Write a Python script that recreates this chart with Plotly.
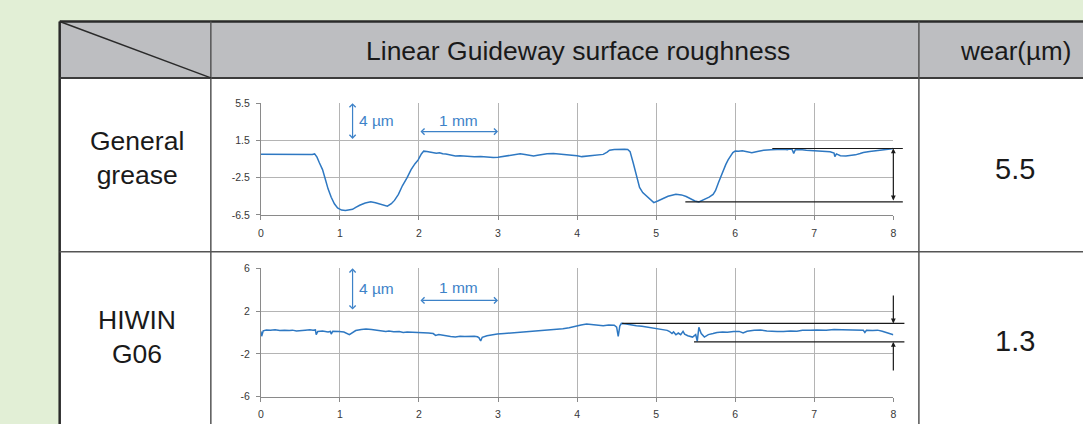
import plotly.graph_objects as go

# ---------------- data ----------------
row_labels = ["General<br>grease", "HIWIN<br>G06"]
wear_values = ["5.5", "1.3"]
header_main = "Linear Guideway surface roughness"
header_wear = "wear(µm)"

x_ticks = [0, 1, 2, 3, 4, 5, 6, 7, 8]
y_ticks_gg = [5.5, 1.5, -2.5, -6.5]
y_ticks_hw = [6, 2, -2, -6]

gg_x = [0.00, 0.10, 0.20, 0.30, 0.40, 0.50, 0.55, 0.60, 0.65, 0.68, 0.71, 0.74, 0.78, 0.82, 0.85,
        0.89, 0.93, 0.97, 1.02, 1.07, 1.12, 1.16, 1.20, 1.25, 1.32, 1.39, 1.45, 1.49, 1.55, 1.60,
        1.65, 1.69, 1.74, 1.79, 1.85, 1.90, 1.95, 1.99, 2.03, 2.06, 2.10, 2.13, 2.18, 2.22, 2.26,
        2.30, 2.34, 2.40, 2.46, 2.52, 2.58, 2.64, 2.70, 2.78, 2.86, 2.94, 3.00, 3.08, 3.16, 3.22,
        3.28, 3.34, 3.40, 3.45, 3.50, 3.56, 3.62, 3.70, 3.76, 3.82, 3.88, 3.94, 4.00, 4.06, 4.12,
        4.20, 4.27, 4.33, 4.38, 4.41, 4.47, 4.54, 4.60, 4.64, 4.67, 4.71, 4.75, 4.79, 4.83, 4.87,
        4.92, 4.97, 5.02, 5.08, 5.15, 5.25, 5.32, 5.38, 5.44, 5.49, 5.54, 5.60, 5.67, 5.72, 5.75,
        5.79, 5.82, 5.85, 5.88, 5.91, 5.94, 5.97, 6.00, 6.04, 6.09, 6.15, 6.21, 6.28, 6.36, 6.45,
        6.52, 6.61, 6.66, 6.68, 6.72, 6.74, 6.76, 6.82, 6.90, 6.96, 7.03, 7.10, 7.20, 7.25, 7.26,
        7.28, 7.33, 7.40, 7.45, 7.52, 7.58, 7.62, 7.70, 7.79, 7.86, 7.92, 7.96, 8.00]
gg_y = [0.02, 0.01, 0.03, 0.02, 0.00, 0.01, -0.05, -0.08, -0.02, 0.05, -0.30, -0.90, -1.63, -2.80, -3.70,
        -4.60, -5.30, -5.75, -5.98, -6.02, -5.97, -5.90, -5.70, -5.46, -5.22, -5.10, -5.20, -5.30, -5.45, -5.56,
        -5.30, -4.94, -4.30, -3.37, -2.50, -1.63, -1.00, -0.59, 0.05, 0.35, 0.32, 0.28, 0.25, 0.12, 0.18,
        0.06, 0.04, -0.10, -0.17, -0.15, -0.20, -0.22, -0.25, -0.22, -0.28, -0.34, -0.30, -0.18, -0.05, 0.02,
        0.06, -0.02, -0.12, -0.17, -0.10, 0.00, 0.08, 0.10, 0.06, 0.04, 0.00, -0.05, -0.15, -0.24, -0.20,
        -0.07, -0.05, 0.00, 0.25, 0.45, 0.52, 0.56, 0.55, 0.52, 0.30, -0.93, -2.33, -3.55, -4.10, -4.42,
        -4.85, -5.18, -5.00, -4.76, -4.50, -4.28, -4.35, -4.52, -4.83, -5.00, -5.11, -4.90, -4.59, -4.30, -3.90,
        -3.00, -2.33, -1.60, -1.10, -0.60, -0.14, 0.20, 0.35, 0.33, 0.39, 0.30, 0.18, 0.32, 0.45, 0.50,
        0.53, 0.56, 0.50, 0.58, 0.52, 0.10, 0.50, 0.52, 0.45, 0.42, 0.35, 0.33, 0.28, 0.15, -0.24,
        0.05, -0.14, -0.16, -0.14, -0.05, 0.10, 0.21, 0.30, 0.39, 0.40, 0.50, 0.58, 0.63]

hw_x = [0.00, 0.01, 0.03, 0.07, 0.12, 0.18, 0.24, 0.30, 0.36, 0.40, 0.45, 0.50, 0.56, 0.62, 0.66,
        0.69, 0.70, 0.72, 0.78, 0.85, 0.88, 0.89, 0.91, 0.99, 1.05, 1.12, 1.16, 1.20, 1.27, 1.33,
        1.40, 1.47, 1.54, 1.58, 1.62, 1.68, 1.75, 1.80, 1.85, 1.90, 1.96, 2.00, 2.06, 2.12, 2.18,
        2.21, 2.25, 2.32, 2.40, 2.46, 2.52, 2.58, 2.64, 2.70, 2.74, 2.76, 2.78, 2.80, 2.86, 2.92,
        2.99, 3.08, 3.16, 3.24, 3.32, 3.40, 3.50, 3.58, 3.66, 3.74, 3.82, 3.90, 3.99, 4.05, 4.12,
        4.18, 4.26, 4.33, 4.40, 4.47, 4.50, 4.52, 4.54, 4.56, 4.62, 4.68, 4.75, 4.82, 4.90, 5.00,
        5.08, 5.14, 5.17, 5.20, 5.22, 5.25, 5.28, 5.31, 5.34, 5.36, 5.40, 5.46, 5.50, 5.52, 5.54,
        5.57, 5.61, 5.66, 5.72, 5.77, 5.84, 5.90, 5.98, 6.05, 6.10, 6.15, 6.24, 6.32, 6.40, 6.47,
        6.53, 6.61, 6.70, 6.78, 6.85, 6.95, 7.03, 7.15, 7.25, 7.35, 7.45, 7.55, 7.62, 7.64, 7.66,
        7.74, 7.80, 7.86, 7.91, 7.96, 8.00]
hw_y = [0.10, -0.35, 0.15, 0.24, 0.20, 0.26, 0.18, 0.22, 0.18, 0.22, 0.14, 0.20, 0.22, 0.26, 0.20,
        0.24, -0.20, 0.10, 0.14, 0.05, 0.10, -0.15, 0.12, 0.09, 0.05, -0.21, -0.05, 0.18, 0.28, 0.33,
        0.28, 0.22, 0.18, 0.10, 0.15, 0.08, 0.09, 0.00, 0.05, 0.04, 0.02, 0.00, -0.05, -0.05, -0.10,
        -0.27, -0.20, -0.30, -0.38, -0.42, -0.35, -0.38, -0.36, -0.35, -0.40, -0.50, -0.80, -0.45, -0.30, -0.22,
        -0.15, -0.10, -0.05, -0.02, 0.00, 0.05, 0.12, 0.18, 0.24, 0.30, 0.36, 0.45, 0.64, 0.70, 0.79,
        0.75, 0.70, 0.64, 0.70, 0.68, 0.50, -0.36, 0.60, 0.85, 0.80, 0.70, 0.64, 0.58, 0.50, 0.39,
        0.30, 0.20, 0.09, -0.10, 0.05, -0.21, -0.05, -0.20, 0.10, -0.15, -0.30, -0.43, -0.20, -0.82, 0.48,
        -0.10, -0.43, -0.20, -0.10, 0.00, 0.05, 0.02, 0.09, 0.10, -0.05, 0.12, 0.20, 0.24, 0.15, 0.10,
        0.10, 0.09, 0.15, 0.12, 0.20, 0.20, 0.24, 0.22, 0.28, 0.25, 0.24, 0.25, 0.20, 0.00, 0.20,
        0.18, 0.22, 0.12, 0.00, -0.10, -0.21]

# measurement reference levels
gg_top, gg_bottom = 0.63, -5.1
gg_top_from, gg_bottom_from = 6.45, 5.35
hw_top, hw_bottom = 0.85, -0.88
hw_top_from, hw_bottom_from = 4.55, 5.46

# ---------------- figure ----------------
W, H = 1083, 424
FONT = "Liberation Sans, Arial, sans-serif"
BLUE = "#2E78C2"
ABLUE = "#3D82C8"
GREEN_BG = "#E2EFD6"


def px(v):
    return v / W


def py(v):
    return 1 - v / H


fig = go.Figure()
fig.add_trace(go.Scatter(x=gg_x, y=gg_y, mode="lines", line=dict(color=BLUE, width=1.5),
                         xaxis="x", yaxis="y", showlegend=False, hoverinfo="skip"))
fig.add_trace(go.Scatter(x=hw_x, y=hw_y, mode="lines", line=dict(color=BLUE, width=1.5),
                         xaxis="x2", yaxis="y2", showlegend=False, hoverinfo="skip"))

axis_common = dict(showline=True, linecolor="#8A8A8A", linewidth=1, gridcolor="#B4B4B4",
                   gridwidth=1.4, ticks="outside", ticklen=4, tickcolor="#8A8A8A",
                   zeroline=False, ticklabelstandoff=4,
                   tickfont=dict(family=FONT, size=10.5, color="#383838"))

x_dom = [px(259.3), px(895.3)]
fig.update_layout(
    xaxis=dict(domain=x_dom, range=[0, 8], tickvals=x_ticks, anchor="y", **axis_common),
    yaxis=dict(domain=[py(215), py(100)], range=[-6.5, 5.5], tickvals=y_ticks_gg,
               ticktext=[str(v) for v in y_ticks_gg], anchor="x", **axis_common),
    xaxis2=dict(domain=x_dom, range=[0, 8], tickvals=x_ticks, anchor="y2", **axis_common),
    yaxis2=dict(domain=[py(402), py(270)], range=[-6, 6], tickvals=y_ticks_hw,
                ticktext=[str(v) for v in y_ticks_hw], anchor="x2", **axis_common),
)

shapes = []
# table backgrounds
shapes.append(dict(type="rect", xref="paper", yref="paper", x0=px(57), x1=px(1120), y0=py(16), y1=py(74),
                   fillcolor="#BDBEC1", line=dict(width=0), layer="below"))
shapes.append(dict(type="rect", xref="paper", yref="paper", x0=px(57), x1=px(1120), y0=py(74), y1=py(440),
                   fillcolor="#FFFFFF", line=dict(width=0), layer="below"))


def seg(x0, y0, x1, y1, color, width):
    shapes.append(dict(type="line", xref="paper", yref="paper", x0=px(x0), y0=py(y0), x1=px(x1), y1=py(y1),
                       line=dict(color=color, width=width), layer="below"))


seg(57, 16, 1120, 16, "#2A2A2A", 2.5)
seg(57, 16, 57, 440, "#2A2A2A", 2.5)
seg(57, 74, 1120, 74, "#3C3C3C", 2)
seg(209, 16, 209, 440, "#555555", 1.5)
seg(921, 16, 921, 440, "#555555", 1.5)
seg(57, 253, 1120, 253, "#555555", 1.5)
seg(57, 16, 209, 74, "#2A2A2A", 1.5)

annotations = []


def text(x, y, s, size, color="#1A1A1A"):
    annotations.append(dict(x=px(x), y=py(y), xref="paper", yref="paper", text=s, showarrow=False,
                            font=dict(family=FONT, size=size, color=color), xanchor="center", yanchor="middle"))


text(578, 46, header_main, 26.5)
text(1018, 46, header_wear, 26)
text(135, 156, row_labels[0], 26.5)
text(135, 341, row_labels[1], 26.5)
text(1018, 168, wear_values[0], 29)
text(1018, 345, wear_values[1], 29)


def arrow(xr, yr, x0, y0, x1, y1, color, head, side, size=1.0, width=1.2):
    annotations.append(dict(xref=xr, yref=yr, axref=xr, ayref=yr, x=x1, y=y1, ax=x0, ay=y0, text="",
                            showarrow=True, arrowhead=head, startarrowhead=head, arrowside=side,
                            arrowsize=size, startarrowsize=size, arrowwidth=width, arrowcolor=color,
                            standoff=0, startstandoff=0))


def label(xr, yr, x, y, s, anchor="center"):
    annotations.append(dict(xref=xr, yref=yr, x=x, y=y, text=s, showarrow=False, xanchor=anchor,
                            yanchor="middle", font=dict(family=FONT, size=15.5, color=ABLUE)))


# scale markers (blue)
arrow("x", "y", 1.16, 1.5, 1.16, 5.5, ABLUE, 4, "end+start", 1.0, 1.2)
label("x", "y", 1.21, 3.6, "4 µm", "left")
arrow("x", "y", 2.0, 2.45, 3.0, 2.45, ABLUE, 4, "end+start", 1.0, 1.2)
label("x", "y", 2.5, 3.65, "1 mm")
arrow("x2", "y2", 1.16, 2.0, 1.16, 6.0, ABLUE, 4, "end+start", 1.0, 1.2)
label("x2", "y2", 1.21, 4.15, "4 µm", "left")
arrow("x2", "y2", 2.0, 3.0, 3.0, 3.0, ABLUE, 4, "end+start", 1.0, 1.2)
label("x2", "y2", 2.5, 4.25, "1 mm")

# wear measurement lines (black)
arrow("x", "y", gg_top_from, gg_top, 8.12, gg_top, "#1A1A1A", 0, "end", 1, 1.1)
arrow("x", "y", gg_bottom_from, gg_bottom, 8.12, gg_bottom, "#1A1A1A", 0, "end", 1, 1.1)
arrow("x", "y", 8.0, gg_bottom, 8.0, gg_top, "#1A1A1A", 2, "end+start", 0.8, 1.2)
arrow("x2", "y2", hw_top_from, hw_top, 8.14, hw_top, "#1A1A1A", 0, "end", 1, 1.1)
arrow("x2", "y2", hw_bottom_from, hw_bottom, 8.14, hw_bottom, "#1A1A1A", 0, "end", 1, 1.1)
arrow("x2", "y2", 8.0, 3.6, 8.0, hw_top, "#1A1A1A", 2, "end", 0.8, 1.2)
arrow("x2", "y2", 8.0, -3.7, 8.0, hw_bottom, "#1A1A1A", 2, "end", 0.8, 1.2)

fig.update_layout(
    width=W, height=H, margin=dict(l=0, r=0, t=0, b=0),
    paper_bgcolor=GREEN_BG, plot_bgcolor="rgba(0,0,0,0)",
    shapes=shapes, annotations=annotations, showlegend=False,
    font=dict(family=FONT),
)

fig.write_html("out.html", config={"displayModeBar": False},
               post_script="document.body.style.margin='0px';document.body.style.overflow='hidden';"
                           "document.body.style.background='" + GREEN_BG + "';"
                           "document.documentElement.style.background='" + GREEN_BG + "';")
